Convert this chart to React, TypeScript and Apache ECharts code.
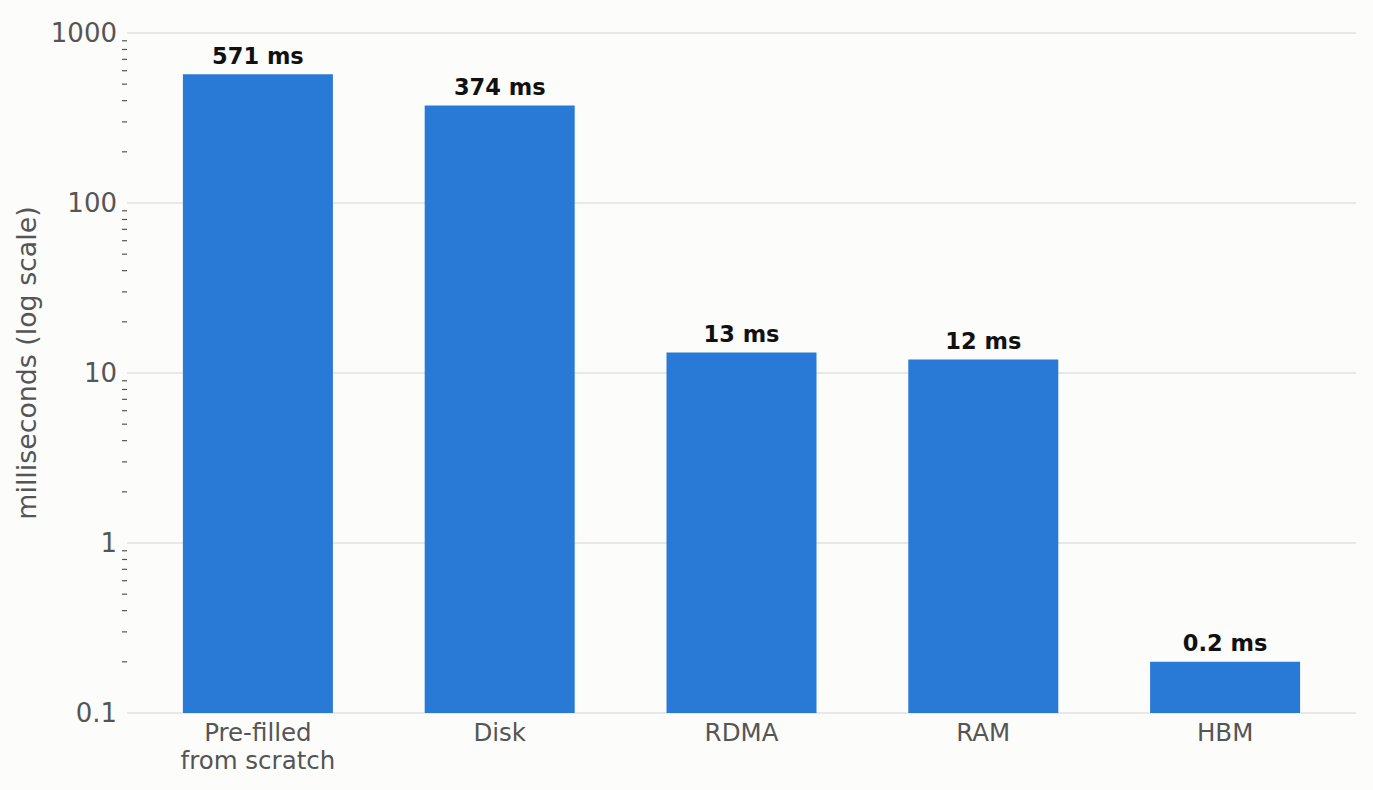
import React, { useEffect, useRef } from "react";
import * as echarts from "echarts";

const categories = ["Pre-filled\nfrom scratch", "Disk", "RDMA", "RAM", "HBM"];
const latencyMs = [571, 374, 13.2, 12, 0.2];
const barLabels = ["571 ms", "374 ms", "13 ms", "12 ms", "0.2 ms"];
const majorTicks = [0.1, 1, 10, 100, 1000];
const minorMultipliers = [2, 3, 4, 5, 6, 7, 8, 9];
const axisFloor = 0.1;

const FONT = "DejaVu Sans";

export default function App() {
  const ref = useRef<HTMLDivElement>(null);

  useEffect(() => {
    document.body.style.margin = "0";
    document.body.style.background = "#fcfcfb";
    if (!ref.current) return;
    const chart = echarts.init(ref.current, undefined, { renderer: "svg" });

    const minorTicks: number[] = [];
    majorTicks.slice(0, -1).forEach((d) => {
      minorMultipliers.forEach((m) => minorTicks.push(Number((d * m).toPrecision(3))));
    });

    const tickData = [
      ...majorTicks.map((v) => ({ value: [0, v], kind: "major" })),
      ...minorTicks.map((v) => ({ value: [0, v], kind: "minor" })),
    ];

    const baseData = latencyMs.map(() => axisFloor);
    const restData = latencyMs.map((v) => Number((v - axisFloor).toPrecision(6)));

    chart.setOption({
      animation: false,
      backgroundColor: "#fcfcfb",
      textStyle: { fontFamily: FONT },
      grid: { left: 137, right: 27, top: 33, bottom: 77 },
      xAxis: {
        type: "category",
        data: categories,
        axisLine: { show: false },
        axisTick: { show: false },
        axisLabel: {
          color: "#555555",
          fontSize: 24.5,
          lineHeight: 28,
          margin: 5,
          fontFamily: FONT,
          interval: 0,
        },
      },
      yAxis: {
        type: "log",
        logBase: 10,
        min: 0.1,
        max: 1000,
        name: "milliseconds (log scale)",
        nameLocation: "middle",
        nameGap: 95,
        nameTextStyle: {
          color: "#555555",
          fontSize: 26.8,
          fontFamily: FONT,
          padding: [0, 0, 0, 20],
        },
        axisLine: { show: false },
        axisTick: { show: false },
        splitLine: { show: false },
        axisLabel: {
          color: "#555555",
          fontSize: 26,
          margin: 20,
          fontFamily: FONT,
          formatter: (v: number) => String(Number(v.toPrecision(3))),
        },
      },
      series: [
        {
          type: "custom",
          z: 1,
          clip: false,
          silent: true,
          data: tickData,
          encode: { x: 0, y: 1 },
          renderItem: (params: any, api: any) => {
            const item = tickData[params.dataIndex];
            const pt = api.coord([0, api.value(1)]);
            const cs = params.coordSys;
            if (item.kind === "major") {
              return {
                type: "line",
                shape: { x1: cs.x - 10, y1: pt[1], x2: cs.x + cs.width + 10, y2: pt[1] },
                style: { stroke: "#e2e2e2", lineWidth: 1.6 },
              };
            }
            return {
              type: "line",
              shape: { x1: cs.x - 15, y1: pt[1], x2: cs.x - 10, y2: pt[1] },
              style: { stroke: "#555555", lineWidth: 1.2 },
            };
          },
        },
        {
          type: "bar",
          name: "base",
          stack: "latency",
          z: 2,
          data: baseData,
          barWidth: 150,
          silent: true,
          itemStyle: { color: "rgba(0,0,0,0)" },
        },
        {
          type: "bar",
          name: "latency",
          stack: "latency",
          z: 3,
          data: restData,
          barWidth: 150,
          itemStyle: { color: "#2979d6" },
          label: {
            show: true,
            position: "top",
            distance: 7,
            color: "#111111",
            fontSize: 22.5,
            fontWeight: "bold",
            fontFamily: FONT,
            formatter: (p: any) => barLabels[p.dataIndex],
          },
        },
      ],
    });

    return () => chart.dispose();
  }, []);

  return (
    <div
      ref={ref}
      style={{ position: "absolute", left: 0, top: 0, width: 1373, height: 790 }}
    />
  );
}
